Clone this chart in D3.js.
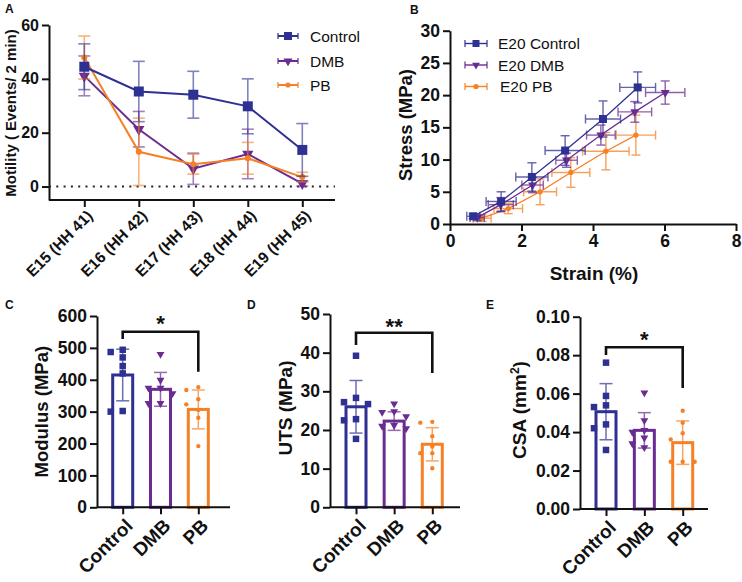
<!DOCTYPE html>
<html><head><meta charset="utf-8">
<script src="https://cdn.jsdelivr.net/npm/d3@7"></script>
<style>body{margin:0;background:#fff}</style>
</head><body><svg id="c" width="742" height="582"></svg>
<script>
// ---------- DATA ----------
const stages = ["E15 (HH 41)","E16 (HH 42)","E17 (HH 43)","E18 (HH 44)","E19 (HH 45)"];
const motilityControl = [44.5,35.3,34.1,29.8,13.6];
const motilityControlSD = [8.5,11.2,8.7,10.2,9.8];
const motilityDMB = [41.1,21.3,6.6,12.1,1.1];
const motilityDMBSD = [7.4,6.6,5.8,9.2,1.0];
const motilityPB = [47.9,12.9,8.3,10.5,3.5];
const motilityPBSD = [8.0,12.5,3.7,5.9,1.8];

const strainControl = [0.65,1.43,2.29,3.22,4.28,5.25];
const strainControlSD = [0.18,0.42,0.45,0.56,0.49,0.5];
const stressControl = [1.2,3.5,7.3,11.4,16.3,21.2];
const stressControlSD = [0.4,1.5,2.2,2.3,2.8,2.4];
const strainDMB = [0.76,1.42,2.31,3.26,4.22,5.17,6.02];
const strainDMBSD = [0.2,0.35,0.3,0.3,0.4,0.47,0.55];
const stressDMB = [1.0,3.0,6.05,9.9,13.8,17.4,20.4];
const stressDMBSD = [0.5,1.1,1.2,1.1,1.55,1.6,1.8];
const strainPB = [0.9,1.63,2.52,3.38,4.36,5.2];
const strainPBSD = [0.25,0.4,0.46,0.53,0.65,0.55];
const stressPB = [0.9,2.4,5.0,8.0,11.3,13.8];
const stressPBSD = [0.5,0.8,2.0,2.3,2.9,3.1];
const legendB = ["E20 Control","E20 DMB","E20 PB"];

const groups = ["Control","DMB","PB"];
const modulusMean = [415,370,307];
const modulusSD = [81,53,61];
const modulusControl = [494,487,470,443,420,302,300];
const modulusDMB = [480,399,374,374,357,326,326];
const modulusPB = [377,368,339,323,305,281,192];
const utsMean = [26.0,22.3,16.3];
const utsSD = [6.8,2.4,4.3];
const utsControl = [39.2,28.3,27.2,26.7,22.8,22.5,17.7];
const utsDMB = [26.8,24.8,24.6,23.5,21.2,21.0,20.4];
const utsPB = [22.1,21.9,18.4,15.7,14.0,14.0,10.1];
const csaMean = [0.0506,0.0409,0.0345];
const csaSD = [0.0146,0.0092,0.0113];
const csaControl = [0.0761,0.0588,0.0539,0.0530,0.0440,0.0420,0.0307];
const csaDMB = [0.0605,0.046,0.041,0.040,0.037,0.034,0.032];
const csaPB = [0.0511,0.0449,0.0394,0.0362,0.0246,0.0246,0.0246];

// ---------- STYLE ----------
const FONT = "Arial, 'Liberation Sans', Helvetica, sans-serif";
const COLORS = ["#2E3192","#6A2C91","#F58025"];
const INK = "#111";
const svg = d3.select("#c");
svg.append("rect").attr("width",742).attr("height",582).attr("fill","#fff");

function styleAxis(g, size){
  g.attr("font-family",FONT).attr("font-size",size).attr("font-weight","bold");
  g.selectAll("path,line").attr("stroke",INK).attr("stroke-width",2);
  g.selectAll("text").attr("fill",INK);
}
function drawMarker(g, k, x, y, size){
  const p = g.append("path").attr("fill",COLORS[k]);
  if(k===0) p.attr("d", d3.symbol(d3.symbolSquare, size*size)());
  else if(k===1) p.attr("d", d3.symbol(d3.symbolTriangle, size*size*0.55)());
  else p.attr("d", d3.symbol(d3.symbolCircle, size*size*0.6)());
  p.attr("transform", `translate(${x},${y})` + (k===1?" rotate(180)":""));
}
function label(txt, x, y, size, opts={}){
  return svg.append("text").attr("x",x).attr("y",y).attr("font-family",FONT)
    .attr("font-size",size).attr("font-weight",opts.weight||"bold").attr("fill",INK)
    .attr("text-anchor",opts.anchor||"start").text(txt);
}
function vlabel(x, y, size){
  return svg.append("text").attr("transform",`translate(${x},${y}) rotate(-90)`)
    .attr("dy","0.35em").attr("text-anchor","middle").attr("font-family",FONT)
    .attr("font-size",size).attr("font-weight","bold").attr("fill",INK);
}

// ---------- PANEL A ----------
(function(){
  const xA = d3.scalePoint().domain(stages).range([84.3,302.3]);
  const yA = d3.scaleLinear().domain([-5,60]).range([200,25]);
  const g = svg.append("g");
  const ya = g.append("g").attr("transform","translate(49,0)")
    .call(d3.axisLeft(yA).tickValues([0,20,40,60]).tickSize(7).tickSizeOuter(0).tickPadding(3));
  styleAxis(ya,16);
  const xa = g.append("g").attr("transform","translate(0,200)")
    .call(d3.axisBottom(xA).tickSize(7).tickSizeOuter(0));
  xa.select(".domain").remove();
  xa.append("line").attr("x1",49).attr("x2",335);
  styleAxis(xa,15.5);
  xa.selectAll(".tick text").attr("x",0).attr("y",0).attr("dy","0.35em")
    .attr("text-anchor","end").attr("transform","translate(5,13) rotate(-45)");
  g.append("line").attr("x1",49).attr("x2",335).attr("y1",yA(0)).attr("y2",yA(0))
    .attr("stroke","#222").attr("stroke-width",2).attr("stroke-dasharray","2,5.3");
  const series = [[motilityControl,motilityControlSD],[motilityDMB,motilityDMBSD],[motilityPB,motilityPBSD]];
  [1,2,0].forEach(k=>{
    const [vals, sds] = series[k];
    const s = g.append("g");
    vals.forEach((v,i)=>{
      const x = xA(stages[i]);
      const eb = s.append("g").attr("stroke",COLORS[k]).attr("stroke-width",1.6).attr("opacity",0.6);
      eb.append("line").attr("x1",x).attr("x2",x).attr("y1",yA(v-sds[i])).attr("y2",yA(v+sds[i]));
      [v-sds[i], v+sds[i]].forEach(e=>eb.append("line").attr("x1",x-6).attr("x2",x+6).attr("y1",yA(e)).attr("y2",yA(e)));
    });
    s.append("path").datum(vals).attr("fill","none").attr("stroke",COLORS[k]).attr("stroke-width",2)
      .attr("d", d3.line().x((d,i)=>xA(stages[i])).y(d=>yA(d)));
    vals.forEach((v,i)=>drawMarker(s,k,xA(stages[i]),yA(v),[10,10,7][k]));
  });
  groups.forEach((name,k)=>{
    const y = [36,61,85][k];
    const lg = svg.append("g");
    lg.append("line").attr("x1",278).attr("x2",298).attr("y1",y).attr("y2",y).attr("stroke",COLORS[k]).attr("stroke-width",2);
    [278,298].forEach(x=>lg.append("line").attr("x1",x).attr("x2",x).attr("y1",y-3).attr("y2",y+3).attr("stroke",COLORS[k]).attr("stroke-width",1.2));
    drawMarker(lg,k,288,y,[8,8,6][k]);
    label(name,310,y+5.5,15.5,{weight:"normal"});
  });
  vlabel(11,113,15).text("Motility ( Events/ 2 min)");
  label("A",5,13,12);
})();

// ---------- PANEL B ----------
(function(){
  const xB = d3.scaleLinear().domain([0,8]).range([450,736]);
  const yB = d3.scaleLinear().domain([0,30]).range([224,30.7]);
  const g = svg.append("g");
  const ya = g.append("g").attr("transform","translate(450,0)")
    .call(d3.axisLeft(yB).tickValues([0,5,10,15,20,25,30]).tickSize(7).tickSizeOuter(0).tickPadding(3));
  styleAxis(ya,17.5);
  const xa = g.append("g").attr("transform","translate(0,224)")
    .call(d3.axisBottom(xB).tickValues([0,2,4,6,8]).tickSize(7).tickSizeOuter(0).tickPadding(4));
  styleAxis(xa,17.5);
  const series = [[strainControl,strainControlSD,stressControl,stressControlSD],
                  [strainDMB,strainDMBSD,stressDMB,stressDMBSD],
                  [strainPB,strainPBSD,stressPB,stressPBSD]];
  [2,1,0].forEach(k=>{
    const [xs,xsd,ys,ysd] = series[k];
    const s = g.append("g");
    xs.forEach((xv,i)=>{
      const yv = ys[i];
      const eb = s.append("g").attr("stroke",COLORS[k]).attr("stroke-width",1.4).attr("opacity",0.75);
      eb.append("line").attr("x1",xB(xv)).attr("x2",xB(xv)).attr("y1",yB(yv-ysd[i])).attr("y2",yB(yv+ysd[i]));
      [yv-ysd[i],yv+ysd[i]].forEach(e=>eb.append("line").attr("x1",xB(xv)-4.5).attr("x2",xB(xv)+4.5).attr("y1",yB(e)).attr("y2",yB(e)));
      eb.append("line").attr("x1",xB(xv-xsd[i])).attr("x2",xB(xv+xsd[i])).attr("y1",yB(yv)).attr("y2",yB(yv));
      [xv-xsd[i],xv+xsd[i]].forEach(e=>eb.append("line").attr("x1",xB(e)).attr("x2",xB(e)).attr("y1",yB(yv)-4.5).attr("y2",yB(yv)+4.5));
    });
    s.append("path").datum(xs).attr("fill","none").attr("stroke",COLORS[k]).attr("stroke-width",1.3)
      .attr("d", d3.line().x(d=>xB(d)).y((d,i)=>yB(ys[i])));
    xs.forEach((xv,i)=>drawMarker(s,k,xB(xv),yB(ys[i]),[8,8,6][k]));
  });
  legendB.forEach((name,k)=>{
    const y = [43.5,65,86.5][k];
    const lg = svg.append("g");
    lg.append("line").attr("x1",465).attr("x2",487).attr("y1",y).attr("y2",y).attr("stroke",COLORS[k]).attr("stroke-width",1.4);
    [465,487].forEach(x=>lg.append("line").attr("x1",x).attr("x2",x).attr("y1",y-3.5).attr("y2",y+3.5).attr("stroke",COLORS[k]).attr("stroke-width",1.2));
    drawMarker(lg,k,476,y,[7,7,6][k]);
    label(name,k===2?500:498,y+5.5,15.5,{weight:"normal"});
  });
  vlabel(406,125,18.5).text("Stress (MPa)");
  label("Strain (%)",594,280,19,{anchor:"middle"});
  label("B",410,14,12);
})();

// ---------- BAR PANELS ----------
function swarm(vals, y){
  const placed = [];
  const offs = [0,-6,6,-12,12];
  return vals.map(v=>{
    const py = y(v);
    let off = 0;
    for(const o of offs){
      if(!placed.some(p=>Math.abs(p.y-py)<6.5 && Math.abs(p.x-o)<6.5)){ off=o; break; }
    }
    placed.push({x:off,y:py});
    return off;
  });
}
function barPanel(cfg){
  const g = svg.append("g");
  const y = d3.scaleLinear().domain(cfg.domain).range([cfg.y0,cfg.y1]);
  const x = d3.scalePoint().domain(groups).range(cfg.xr);
  groups.forEach((gname,k)=>{
    const cx = x(gname);
    g.append("rect").attr("x",cx-10).attr("width",20).attr("y",y(cfg.means[k]))
      .attr("height",y(0)-y(cfg.means[k])).attr("fill","#fff").attr("stroke",COLORS[k]).attr("stroke-width",3);
    const m = cfg.means[k], sd = cfg.sds[k];
    const eb = g.append("g").attr("stroke",COLORS[k]).attr("stroke-width",1.5).attr("opacity",0.7);
    eb.append("line").attr("x1",cx).attr("x2",cx).attr("y1",y(m-sd)).attr("y2",y(m+sd));
    [m-sd,m+sd].forEach(e=>eb.append("line").attr("x1",cx-6.5).attr("x2",cx+6.5).attr("y1",y(e)).attr("y2",y(e)));
    const pts = cfg.points[k];
    const offs = swarm(pts,y);
    pts.forEach((v,i)=>drawMarker(g,k,cx+offs[i],y(v),[6.5,7,5][k]));
  });
  const ya = g.append("g").attr("transform",`translate(${cfg.ax},0)`)
    .call(d3.axisLeft(y).tickValues(cfg.ticks).tickFormat(cfg.fmt).tickSize(7).tickSizeOuter(0).tickPadding(3));
  styleAxis(ya,17.5);
  const xa = g.append("g").attr("transform",`translate(0,${cfg.y0})`)
    .call(d3.axisBottom(x).tickSize(7).tickSizeOuter(0));
  xa.select(".domain").remove();
  xa.append("line").attr("x1",cfg.ax).attr("x2",cfg.axEnd);
  styleAxis(xa,19);
  xa.selectAll(".tick text").attr("x",0).attr("y",0).attr("dy","0.35em")
    .attr("text-anchor","end").attr("transform","translate(6,15) rotate(-45)");
  const xl = x("Control"), xr = x("PB");
  g.append("path").attr("fill","none").attr("stroke",INK).attr("stroke-width",2.6)
    .attr("d",`M${xl},${cfg.br[1]}V${cfg.br[0]}H${xr}V${cfg.br[2]}`);
  label(cfg.star,(xl+xr)/2,cfg.starY,22,{anchor:"middle"});
  return g;
}
barPanel({domain:[0,600],y0:507.3,y1:316,ax:97,axEnd:230,xr:[122.7,198.3],
  means:modulusMean,sds:modulusSD,points:[modulusControl,modulusDMB,modulusPB],
  ticks:[0,100,200,300,400,500,600],fmt:d3.format("d"),br:[331.7,339,371.7],star:"*",starY:331});
vlabel(41.5,411.7,18.5).text("Modulus (MPa)");
label("C",5,309,12);

barPanel({domain:[0,50],y0:507.3,y1:314,ax:330,axEnd:460,xr:[356,432.3],
  means:utsMean,sds:utsSD,points:[utsControl,utsDMB,utsPB],
  ticks:[0,10,20,30,40,50],fmt:d3.format("d"),br:[332.7,345,373],star:"**",starY:334});
vlabel(285,408,19).text("UTS (MPa)");
label("D",247,309,12);

barPanel({domain:[0,0.1],y0:509,y1:316.7,ax:580,axEnd:708,xr:[606,682.7],
  means:csaMean,sds:csaSD,points:[csaControl,csaDMB,csaPB],
  ticks:[0,0.02,0.04,0.06,0.08,0.1],fmt:d3.format(".2f"),br:[347.3,355,388],star:"*",starY:347});
(function(){
  const t = vlabel(519,410,19);
  t.append("tspan").text("CSA (mm");
  t.append("tspan").attr("baseline-shift","super").attr("font-size",12).text("2");
  t.append("tspan").text(")");
})();
label("E",486,309,12);
</script></body></html>
